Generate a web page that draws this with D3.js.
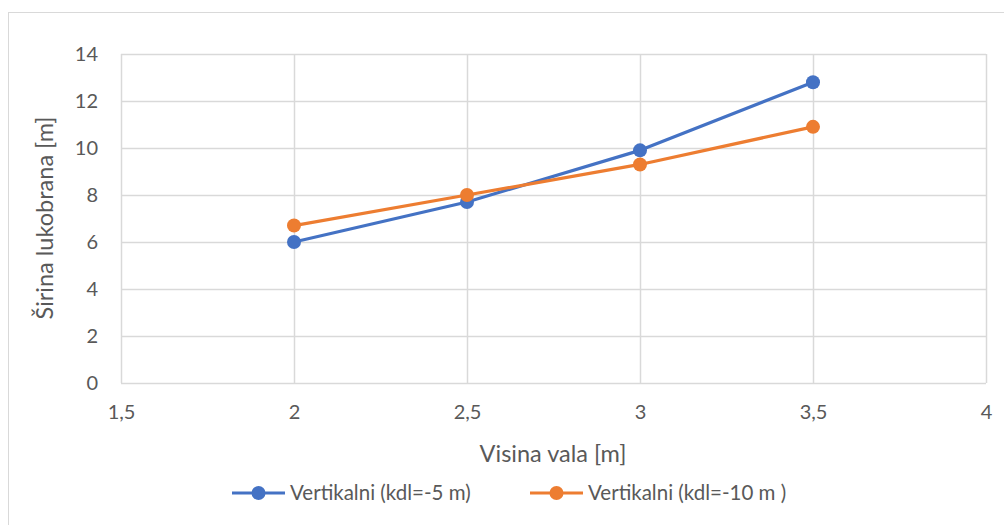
<!DOCTYPE html>
<html><head><meta charset="utf-8">
<script src="https://cdn.jsdelivr.net/npm/d3@7"></script>
<style>body{margin:0;background:#fff;}svg{display:block;font-family:Lato,"Open Sans",sans-serif;}</style>
</head><body>
<svg id="c" width="1004" height="525"></svg>
<script>
const xValues = [2, 2.5, 3, 3.5];
const series1Name = "Vertikalni (kdl=-5 m)";
const series1 = [6.0, 7.7, 9.9, 12.8];
const series2Name = "Vertikalni (kdl=-10 m )";
const series2 = [6.7, 8.0, 9.3, 10.9];
const xTicks = [1.5, 2, 2.5, 3, 3.5, 4];
const yTicks = [0, 2, 4, 6, 8, 10, 12, 14];
const xTitle = "Visina vala [m]";
const yTitle = "Širina lukobrana [m]";

const svg = d3.select("#c");
svg.append("rect").attr("x",8.5).attr("y",12.5).attr("width",1000).attr("height",520)
  .attr("fill","#fff").attr("stroke","#d9d9d9");

const x = d3.scaleLinear().domain([1.5,4]).range([121,986]);
const y = d3.scaleLinear().domain([0,14]).range([383,54]);
const fmt = d => String(d).replace(".", ",");

const grid = svg.append("g");
grid.selectAll(".gy").data(yTicks).join("line")
  .attr("x1",x(1.5)).attr("x2",x(4)).attr("y1",d=>Math.round(y(d))+0.5).attr("y2",d=>Math.round(y(d))+0.5)
  .attr("stroke","#d9d9d9").attr("stroke-width",1.5);
grid.selectAll(".gx").data(xTicks).join("line")
  .attr("y1",y(0)).attr("y2",y(14)).attr("x1",d=>Math.round(x(d))+0.5).attr("x2",d=>Math.round(x(d))+0.5)
  .attr("stroke","#d9d9d9").attr("stroke-width",1.5);

const yAxis = d3.axisLeft(y).tickValues(yTicks).tickSize(0).tickPadding(0).tickFormat(fmt);
const ga = svg.append("g").attr("transform","translate(98,0)").call(yAxis);
ga.select(".domain").remove();
ga.selectAll("text").attr("fill","#595959").attr("font-size","20px").attr("font-family","Lato,sans-serif");

const xAxis = d3.axisBottom(x).tickValues(xTicks).tickSize(0).tickPadding(0).tickFormat(fmt);
const gx = svg.append("g").attr("transform","translate(0,405)").call(xAxis);
gx.select(".domain").remove();
gx.selectAll("text").attr("fill","#595959").attr("font-size","20px").attr("font-family","Lato,sans-serif");

svg.append("text").attr("x",553).attr("y",462).attr("text-anchor","middle")
  .attr("fill","#595959").attr("font-size","23.5px").text(xTitle);
svg.append("text").attr("transform","translate(53,218) rotate(-90)").attr("text-anchor","middle")
  .attr("fill","#595959").attr("font-size","23.5px").text(yTitle);

const data = [
  {name: series1Name, vals: series1, color: "#4472C4"},
  {name: series2Name, vals: series2, color: "#ED7D31"}
];
const line = d3.line().x(d=>x(d[0])).y(d=>y(d[1]));
data.forEach(s => {
  const pts = xValues.map((v,i)=>[v, s.vals[i]]);
  svg.append("path").attr("d",line(pts)).attr("fill","none").attr("stroke",s.color)
    .attr("stroke-width",3.2).attr("stroke-linejoin","round").attr("stroke-linecap","round");
  svg.selectAll(null).data(pts).join("circle").attr("cx",d=>x(d[0])).attr("cy",d=>y(d[1]))
    .attr("r",7).attr("fill",s.color);
});

const legendX = [232, 530];
data.forEach((s,i) => {
  const lx = legendX[i], ly = 493;
  svg.append("line").attr("x1",lx).attr("x2",lx+53).attr("y1",ly).attr("y2",ly)
    .attr("stroke",s.color).attr("stroke-width",3.2);
  svg.append("circle").attr("cx",lx+26.5).attr("cy",ly).attr("r",7).attr("fill",s.color);
  svg.append("text").attr("x",lx+58).attr("y",ly+7).attr("fill","#595959")
    .attr("font-size","20.5px").text(s.name);
});
</script>
</body></html>
